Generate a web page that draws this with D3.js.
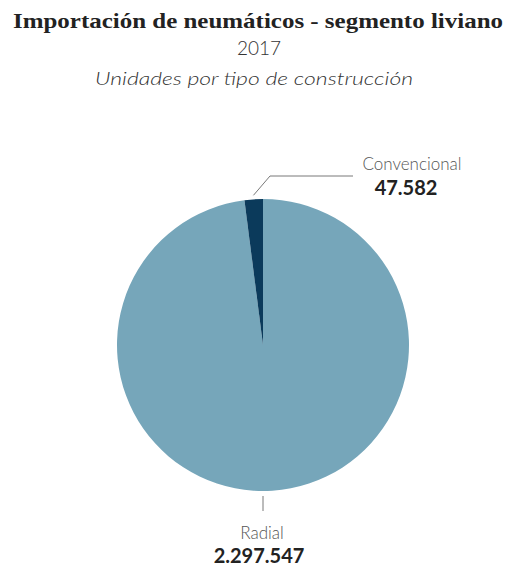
<!DOCTYPE html>
<html><head><meta charset="utf-8">
<script src="https://cdn.jsdelivr.net/npm/d3@7"></script>
<style>body{margin:0;background:#fff}</style>
</head><body>
<script>
const categories = ["Radial", "Convencional"];
const values = [2297547, 47582];
const valueLabels = ["2.297.547", "47.582"];
const colors = ["#76a6ba", "#0b3a5b"];

const W = 516, H = 567;
const svg = d3.select("body").append("svg").attr("width", W).attr("height", H);

svg.append("text").attr("x", 258).attr("y", 28).attr("text-anchor", "middle")
  .attr("font-family", "'Liberation Serif', serif").attr("font-weight", "bold")
  .attr("font-size", 22).attr("fill", "#222").attr("textLength", 490).attr("lengthAdjust","spacingAndGlyphs")
  .text("Importación de neumáticos - segmento liviano");
svg.append("text").attr("x", 259).attr("y", 55).attr("text-anchor", "middle")
  .attr("font-family", "Lato, sans-serif").attr("font-weight", 300)
  .attr("font-size", 19).attr("fill", "#333").text("2017");
svg.append("text").attr("x", 254).attr("y", 85).attr("text-anchor", "middle")
  .attr("font-family", "Lato, sans-serif").attr("font-style", "italic").attr("font-weight", 300)
  .attr("font-size", 18).attr("fill", "#333").attr("textLength", 318).attr("lengthAdjust","spacingAndGlyphs")
  .text("Unidades por tipo de construcción");

const cx = 263, cy = 345, r = 146;
const data = categories.map((c, i) => ({cat: c, value: values[i], label: valueLabels[i], color: colors[i]}));
const pie = d3.pie().value(d => d.value).sort(null);
const arcs = pie(data);
const arc = d3.arc().innerRadius(0).outerRadius(r);
const g = svg.append("g").attr("transform", `translate(${cx},${cy})`);
g.selectAll("path").data(arcs).join("path").attr("d", arc).attr("fill", d => d.data.color);

// Convencional label
const conv = arcs[1];
const mid = (conv.startAngle + conv.endAngle) / 2;
const p0 = [Math.sin(mid) * (r + 4), -Math.cos(mid) * (r + 4)];
const p1 = [7, -169];
const p2 = [90, -169];
g.append("polyline").attr("points", [p0, p1, p2].map(p => p.join(",")).join(" "))
  .attr("fill", "none").attr("stroke", "#555").attr("stroke-width", 0.8);
svg.append("text").attr("x", 412).attr("y", 170).attr("text-anchor", "middle")
  .attr("font-family", "Lato, sans-serif").attr("font-weight", 300).attr("font-size", 17).attr("fill", "#555")
  .text(conv.data.cat);
svg.append("text").attr("x", 406).attr("y", 195).attr("text-anchor", "middle")
  .attr("font-family", "Lato, sans-serif").attr("font-weight", "bold").attr("font-size", 20).attr("fill", "#222")
  .text(conv.data.label);

// Radial label
const rad = arcs[0];
g.append("line").attr("x1", 0).attr("x2", 0).attr("y1", r + 5).attr("y2", r + 20)
  .attr("stroke", "#555").attr("stroke-width", 0.8);
svg.append("text").attr("x", 262).attr("y", 539).attr("text-anchor", "middle")
  .attr("font-family", "Lato, sans-serif").attr("font-weight", 300).attr("font-size", 17).attr("fill", "#555")
  .text(rad.data.cat);
svg.append("text").attr("x", 259).attr("y", 563).attr("text-anchor", "middle")
  .attr("font-family", "Lato, sans-serif").attr("font-weight", "bold").attr("font-size", 20).attr("fill", "#222")
  .text(rad.data.label);
</script>
</body></html>
